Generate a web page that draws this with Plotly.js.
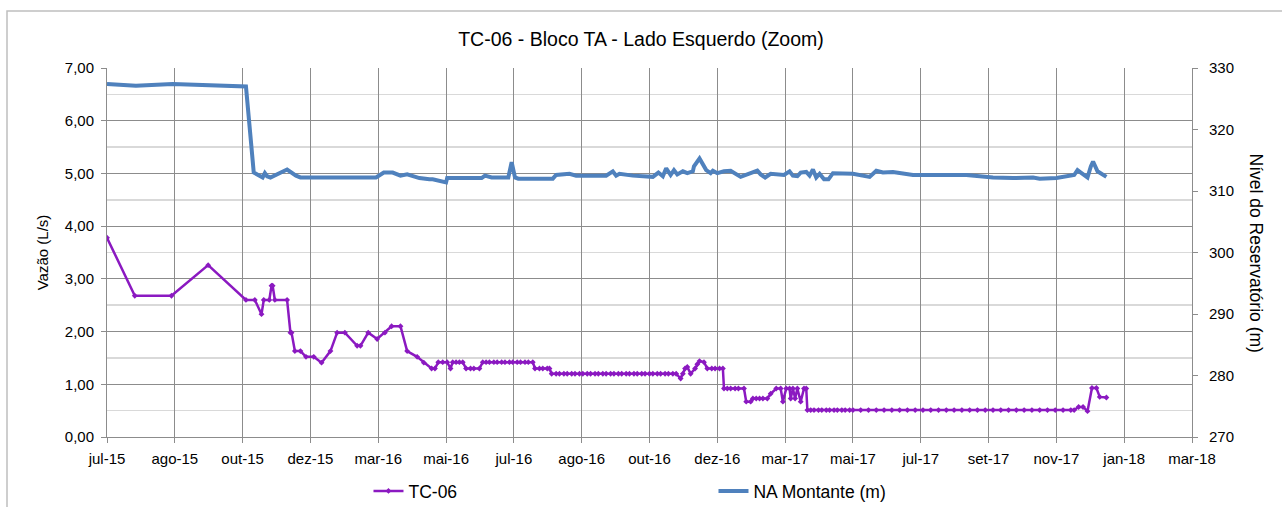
<!DOCTYPE html>
<html>
<head>
<meta charset="utf-8">
<script src="https://cdn.plot.ly/plotly-3.0.1.min.js"></script>
<style>html,body{margin:0;padding:0;background:#fff;}#chart{width:1282px;height:507px;}</style>
</head>
<body>
<div id="chart"></div>
<script>
// ---- Data ----
const chartTitle = "TC-06 - Bloco TA - Lado Esquerdo (Zoom)";
const leftTitle = "Vazão (L/s)";
const rightTitle = "Nível do Reservatório (m)";
const seriesNames = ["TC-06", "NA Montante (m)"];

const tickDates = ["2015-07-01","2015-08-31","2015-10-31","2015-12-31","2016-03-01","2016-05-01","2016-07-01","2016-08-31","2016-10-31","2016-12-31","2017-03-02","2017-05-02","2017-07-02","2017-09-01","2017-11-01","2018-01-01","2018-03-03"];
const tickLabels = ["jul-15","ago-15","out-15","dez-15","mar-16","mai-16","jul-16","ago-16","out-16","dez-16","mar-17","mai-17","jul-17","set-17","nov-17","jan-18","mar-18"];

const tcDates = [
"2015-07-01","2015-07-26","2015-08-28","2015-09-30","2015-11-03","2015-11-11","2015-11-17","2015-11-19","2015-11-24","2015-11-26",
"2015-11-27","2015-11-29","2015-12-10","2015-12-13","2015-12-14","2015-12-17","2015-12-22","2015-12-27","2016-01-03","2016-01-10",
"2016-01-18","2016-01-24","2016-01-31","2016-02-11","2016-02-14","2016-02-21","2016-02-29","2016-03-07","2016-03-13","2016-03-21",
"2016-03-27","2016-04-05","2016-04-11","2016-04-18","2016-04-21","2016-04-24","2016-04-28","2016-05-02","2016-05-05","2016-05-07",
"2016-05-10","2016-05-13","2016-05-16","2016-05-19","2016-05-23","2016-05-26","2016-05-31","2016-06-03","2016-06-06","2016-06-09",
"2016-06-13","2016-06-16","2016-06-20","2016-06-23","2016-06-27","2016-06-30","2016-07-04","2016-07-07","2016-07-11","2016-07-14",
"2016-07-18","2016-07-20","2016-07-24","2016-07-27","2016-07-31","2016-08-02","2016-08-04","2016-08-08","2016-08-11","2016-08-15",
"2016-08-18","2016-08-22","2016-08-25","2016-08-29","2016-09-01","2016-09-05","2016-09-08","2016-09-12","2016-09-15","2016-09-19",
"2016-09-22","2016-09-26","2016-09-29","2016-10-03","2016-10-06","2016-10-10","2016-10-13","2016-10-17","2016-10-20","2016-10-24",
"2016-10-27","2016-10-31","2016-11-03","2016-11-07","2016-11-10","2016-11-14","2016-11-17","2016-11-21","2016-11-24","2016-11-28",
"2016-11-30","2016-12-02","2016-12-04","2016-12-07","2016-12-11","2016-12-13","2016-12-15","2016-12-19","2016-12-22","2016-12-26",
"2016-12-29","2017-01-02","2017-01-05","2017-01-06","2017-01-09","2017-01-12","2017-01-16","2017-01-19","2017-01-24","2017-01-26",
"2017-01-30","2017-02-01","2017-02-04","2017-02-07","2017-02-10","2017-02-14","2017-02-17","2017-02-22","2017-02-26","2017-02-28",
"2017-03-03","2017-03-06","2017-03-07","2017-03-09","2017-03-11","2017-03-13","2017-03-16","2017-03-19","2017-03-21","2017-03-22",
"2017-03-25","2017-03-28","2017-04-01","2017-04-04","2017-04-08","2017-04-11","2017-04-15","2017-04-18","2017-04-22","2017-04-25",
"2017-04-29","2017-05-02","2017-05-09","2017-05-16","2017-05-23","2017-05-30","2017-06-06","2017-06-13","2017-06-20","2017-06-27",
"2017-07-04","2017-07-11","2017-07-18","2017-07-25","2017-08-01","2017-08-08","2017-08-15","2017-08-22","2017-08-29","2017-09-05",
"2017-09-12","2017-09-19","2017-09-26","2017-10-03","2017-10-10","2017-10-17","2017-10-24","2017-10-31","2017-11-07","2017-11-14",
"2017-11-17","2017-11-21","2017-11-25","2017-11-29","2017-12-03","2017-12-07","2017-12-10","2017-12-16"];
const tcValues = [
3.78,2.68,2.68,3.26,2.60,2.60,2.33,2.60,2.60,2.87,
2.87,2.60,2.60,1.98,1.98,1.63,1.63,1.52,1.52,1.41,
1.63,1.98,1.98,1.73,1.73,1.98,1.86,1.98,2.10,2.10,
1.63,1.52,1.41,1.30,1.30,1.42,1.42,1.42,1.30,1.42,
1.42,1.42,1.42,1.30,1.30,1.30,1.30,1.42,1.42,1.42,
1.42,1.42,1.42,1.42,1.42,1.42,1.42,1.42,1.42,1.42,
1.42,1.30,1.30,1.30,1.30,1.30,1.20,1.20,1.20,1.20,
1.20,1.20,1.20,1.20,1.20,1.20,1.20,1.20,1.20,1.20,
1.20,1.20,1.20,1.20,1.20,1.20,1.20,1.20,1.20,1.20,
1.20,1.20,1.20,1.20,1.20,1.20,1.20,1.20,1.20,1.11,
1.20,1.30,1.33,1.20,1.30,1.38,1.44,1.42,1.30,1.30,
1.30,1.30,1.30,0.92,0.92,0.92,0.92,0.92,0.92,0.67,
0.67,0.73,0.73,0.73,0.73,0.73,0.82,0.92,0.92,0.67,
0.92,0.92,0.73,0.92,0.73,0.92,0.67,0.92,0.92,0.51,
0.51,0.51,0.51,0.51,0.51,0.51,0.51,0.51,0.51,0.51,
0.51,0.51,0.51,0.51,0.51,0.51,0.51,0.51,0.51,0.51,
0.51,0.51,0.51,0.51,0.51,0.51,0.51,0.51,0.51,0.51,
0.51,0.51,0.51,0.51,0.51,0.51,0.51,0.51,0.51,0.51,
0.51,0.57,0.57,0.49,0.93,0.93,0.76,0.75];

const naDates = [
"2015-07-01","2015-07-27","2015-08-29","2015-10-31","2015-11-03","2015-11-10","2015-11-18","2015-11-20","2015-11-22","2015-11-25",
"2015-12-10","2015-12-18","2015-12-22","2016-02-28","2016-03-06","2016-03-14","2016-03-21","2016-03-27","2016-04-07","2016-04-16",
"2016-04-19","2016-05-01","2016-05-02","2016-06-02","2016-06-05","2016-06-11","2016-06-26","2016-06-29","2016-07-02","2016-07-05",
"2016-08-05","2016-08-08","2016-08-20","2016-08-26","2016-09-22","2016-09-28","2016-10-01","2016-10-04","2016-10-16","2016-11-03",
"2016-11-08","2016-11-12","2016-11-15","2016-11-19","2016-11-22","2016-11-25","2016-11-30","2016-12-04","2016-12-09","2016-12-10",
"2016-12-15","2016-12-21","2016-12-25","2016-12-27","2016-12-31","2017-01-06","2017-01-12","2017-01-21","2017-01-29","2017-02-05",
"2017-02-08","2017-02-12","2017-02-17","2017-03-01","2017-03-06","2017-03-09","2017-03-13","2017-03-16","2017-03-21","2017-03-24",
"2017-03-27","2017-03-30","2017-04-02","2017-04-06","2017-04-10","2017-04-14","2017-05-02","2017-05-17","2017-05-23","2017-05-29",
"2017-06-07","2017-06-25","2017-08-12","2017-09-05","2017-09-23","2017-10-11","2017-10-17","2017-11-01","2017-11-17","2017-11-20",
"2017-11-23","2017-11-29","2017-12-02","2017-12-04","2017-12-08","2017-12-11","2017-12-16"];
const naValues = [
327.4,327.1,327.4,327.0,327.0,313.0,312.2,312.9,312.4,312.2,
313.5,312.5,312.2,312.2,313.0,313.0,312.5,312.7,312.1,311.9,
311.9,311.4,312.1,312.1,312.5,312.2,312.2,314.7,312.2,312.0,
312.0,312.6,312.8,312.5,312.5,313.2,312.5,312.8,312.5,312.3,
313.0,312.4,313.7,312.6,313.4,312.7,313.2,312.9,313.2,314.0,
315.3,313.4,312.9,313.3,312.9,313.2,313.3,312.3,312.9,313.3,
312.7,312.2,312.8,312.6,313.2,312.5,312.4,313.0,313.1,312.5,
313.5,312.2,312.8,311.9,311.9,312.9,312.8,312.3,313.3,313.0,
313.1,312.6,312.6,312.2,312.1,312.2,312.0,312.1,312.6,313.4,
313.0,312.2,314.0,314.8,313.2,312.9,312.3];

// ---- Chart ----
const FONT = "Liberation Sans, Arial, sans-serif";
const traces = [
  {
    x: tcDates, y: tcValues, name: seriesNames[0], type: "scatter", mode: "lines+markers",
    line: {color: "#8B19C1", width: 2.5}, marker: {color: "#8B19C1", size: 4.5, symbol: "diamond"},
    yaxis: "y"
  },
  {
    x: naDates, y: naValues, name: seriesNames[1], type: "scatter", mode: "lines",
    line: {color: "#4F81BD", width: 4}, yaxis: "y2"
  }
];

const gridDark = "#8C8C8C";
const layout = {
  width: 1282, height: 507,
  paper_bgcolor: "#ffffff", plot_bgcolor: "#ffffff",
  separators: ",.",
  font: {family: FONT, size: 15, color: "#000"},
  margin: {l: 107, r: 90, t: 68, b: 70, pad: 0, autoexpand: false},
  title: {text: chartTitle, font: {family: FONT, size: 19.5, color: "#000"}, x: 0.5, xref: "container", xanchor: "center", y: 1 - 39/507, yref: "container", yanchor: "middle"},
  showlegend: true,
  legend: {orientation: "h", x: 0.241, xanchor: "left", xref: "paper", y: 1 - 491/507, yref: "container", yanchor: "middle", font: {family: FONT, size: 17.5}, entrywidth: 300, entrywidthmode: "pixels", bgcolor: "rgba(0,0,0,0)", traceorder: "normal"},
  xaxis: {
    type: "date", range: ["2015-07-01", "2018-03-03"],
    tickmode: "array", tickvals: tickDates, ticktext: tickLabels,
    showgrid: true, gridcolor: gridDark, gridwidth: 1,
    showline: true, linecolor: gridDark, linewidth: 1,
    ticks: "outside", ticklen: 5, tickcolor: gridDark, ticklabelstandoff: 3,
    tickfont: {family: FONT, size: 15, color: "#000"}, zeroline: false
  },
  yaxis: {
    range: [0, 7], dtick: 1, tick0: 0, tickformat: ".2f",
    showgrid: true, gridcolor: gridDark, gridwidth: 1,
    minor: {dtick: 0.5, showgrid: true, gridcolor: "#D9D9D9", gridwidth: 1.5, ticks: ""},
    showline: true, linecolor: gridDark, linewidth: 1,
    ticks: "outside", ticklen: 5, tickcolor: gridDark, ticklabelstandoff: 4,
    tickfont: {family: FONT, size: 15, color: "#000"}, zeroline: false,
    title: {text: leftTitle, font: {family: FONT, size: 15, color: "#000"}, standoff: 12}
  },
  yaxis2: {
    overlaying: "y", side: "right", range: [270, 330], dtick: 10, tick0: 270,
    showgrid: false, showline: true, linecolor: gridDark, linewidth: 1,
    ticks: "outside", ticklen: 5, tickcolor: gridDark, ticklabelstandoff: 8,
    tickfont: {family: FONT, size: 15, color: "#000"}, zeroline: false
  },
  annotations: [
    {text: rightTitle, xref: "paper", yref: "paper", x: (1256-107)/1085, y: 0.5, xanchor: "center", yanchor: "middle",
     textangle: 90, showarrow: false, font: {family: FONT, size: 17.5, color: "#000"}}
  ],
  shapes: [
    {type: "rect", xref: "paper", yref: "paper", x0: (7-107)/1085, x1: 1.3, y0: -0.5, y1: (437-11)/369,
     line: {color: "#BFBFBF", width: 1.5}, fillcolor: "rgba(0,0,0,0)", layer: "below"}
  ]
};

Plotly.newPlot("chart", traces, layout, {staticPlot: true, displayModeBar: false});
</script>
</body>
</html>
